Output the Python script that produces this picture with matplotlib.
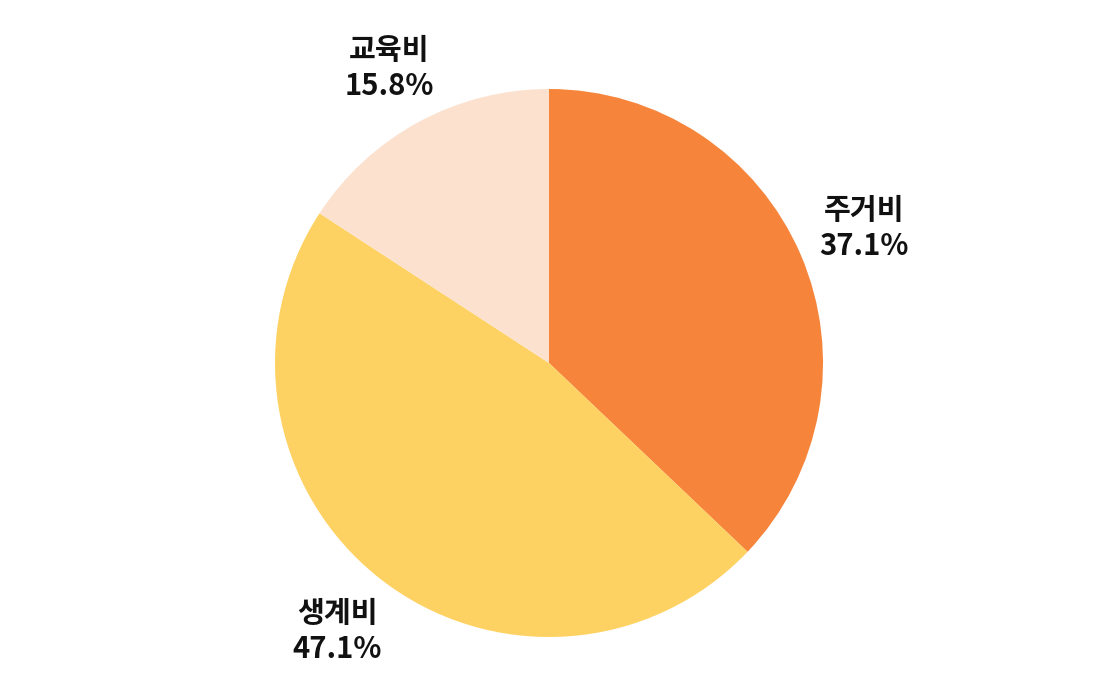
import matplotlib
matplotlib.use("Agg")
import matplotlib.pyplot as plt
import numpy as np

#---- Donnees
categories = ["주거비", "생계비", "교육비"]
values = [37.1, 47.1, 15.8]
colors = ["#F6853B", "#FED262", "#FCE1CF"]

#---- Distance radiale des etiquettes (en rayons)
label_dist = [1.25, 1.247, 1.224]

plt.rcParams['font.family'] = ['Noto Sans CJK KR', 'DejaVu Sans']

fig = plt.figure(figsize=(11.11, 6.92), dpi=100)
ax = fig.add_axes([0, 0, 1, 1])

labels = [f"{c}\n{v:.1f}%" for c, v in zip(categories, values)]
wedges, texts = ax.pie(values, labels=labels, colors=colors, startangle=90,
                       counterclock=False, labeldistance=1.245,
                       radius=1.0,
                       textprops=dict(fontsize=21, fontweight='bold',
                                      color='#111111', ha='center',
                                      va='center', linespacing=1.25))

#---- Placement des etiquettes
for w, t, d in zip(wedges, texts, label_dist):
    ang = np.deg2rad((w.theta1 + w.theta2) / 2)
    t.set_position((d * np.cos(ang), d * np.sin(ang)))
    t.set_ha('center')
    t.set_va('center')

ax.set_aspect('equal')
# centre (549, 363), rayon 274 px
r_px = 274.0
W, H = 1111, 692
cx, cy = 549, H - 363
ax.set_xlim(-cx / r_px, (W - cx) / r_px)
ax.set_ylim(-cy / r_px, (H - cy) / r_px)
ax.axis('off')

fig.savefig("out.png", dpi=100)
